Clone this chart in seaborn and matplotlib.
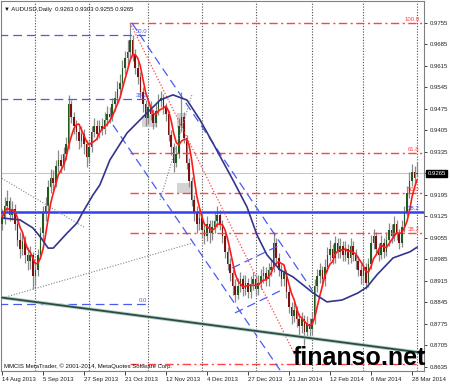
import numpy as np
import pandas as pd
import matplotlib
matplotlib.use("Agg")
import matplotlib.pyplot as plt
import seaborn as sns

# ---------------- data ----------------
date_labels = ["14 Aug 2013", "5 Sep 2013", "27 Sep 2013", "21 Oct 2013", "12 Nov 2013",
               "4 Dec 2013", "27 Dec 2013", "21 Jan 2014", "12 Feb 2014", "6 Mar 2014", "28 Mar 2014"]
label_bars = [0, 16, 32, 48, 64, 80, 96, 112, 128, 144, 160]
month_sep_bars = [13, 34, 57, 78, 99, 121, 141, 162]

price_labels = ["0.9755", "0.9685", "0.9615", "0.9545", "0.9475", "0.9405", "0.9335", "0.9265",
                "0.9195", "0.9125", "0.9055", "0.8985", "0.8915", "0.8845", "0.8775", "0.8705", "0.8635"]

first_open = 0.9100
last_open = 0.9263
closes = [
    0.9120, 0.9160, 0.9175, 0.9130, 0.9150, 0.9100, 0.9050, 0.9020, 0.9045, 0.9000,
    0.8980, 0.9000, 0.8930, 0.8950, 0.9000, 0.9070, 0.9140, 0.9160, 0.9220, 0.9250,
    0.9235, 0.9290, 0.9310, 0.9290, 0.9330, 0.9360, 0.9490, 0.9450, 0.9420, 0.9400,
    0.9370, 0.9395, 0.9360, 0.9320, 0.9350, 0.9400, 0.9420, 0.9395, 0.9420, 0.9410,
    0.9440, 0.9460, 0.9450, 0.9490, 0.9510, 0.9540, 0.9560, 0.9610, 0.9640, 0.9660,
    0.9700, 0.9650, 0.9610, 0.9580, 0.9530, 0.9490, 0.9445, 0.9480, 0.9460, 0.9430,
    0.9470, 0.9500, 0.9510, 0.9480, 0.9460, 0.9390, 0.9350, 0.9300, 0.9330, 0.9420,
    0.9450, 0.9380, 0.9300, 0.9240, 0.9180, 0.9140, 0.9100, 0.9120, 0.9080, 0.9060,
    0.9100, 0.9070, 0.9090, 0.9110, 0.9130, 0.9100, 0.9060, 0.9010, 0.8970, 0.8940,
    0.8900, 0.8870, 0.8900, 0.8920, 0.8890, 0.8910, 0.8880, 0.8905, 0.8920, 0.8890,
    0.8910, 0.8930, 0.8940, 0.8920, 0.8950, 0.8960, 0.9040, 0.8990, 0.8950, 0.8920,
    0.8940, 0.8880, 0.8830, 0.8800, 0.8820, 0.8790, 0.8770, 0.8790, 0.8750, 0.8775,
    0.8760, 0.8790, 0.8900, 0.8930, 0.8950, 0.8920, 0.8960, 0.9000, 0.9020, 0.8990,
    0.9040, 0.9010, 0.9030, 0.9000, 0.9020, 0.8990, 0.9030, 0.9000, 0.8980, 0.8950,
    0.8930, 0.8960, 0.8910, 0.8970, 0.9040, 0.9060, 0.9020, 0.9000, 0.9040, 0.9010,
    0.9050, 0.9080, 0.9060, 0.9100, 0.9070, 0.9040, 0.9090, 0.9140, 0.9200, 0.9240,
    0.9270, 0.9250, 0.9265]
highs = [
    0.9150, 0.9190, 0.9210, 0.9190, 0.9175, 0.9165, 0.9115, 0.9075, 0.9070, 0.9060,
    0.9025, 0.9030, 0.9010, 0.8975, 0.9020, 0.9090, 0.9160, 0.9190, 0.9245, 0.9280,
    0.9275, 0.9310, 0.9340, 0.9330, 0.9350, 0.9385, 0.9520, 0.9505, 0.9465, 0.9440,
    0.9415, 0.9420, 0.9410, 0.9375, 0.9370, 0.9420, 0.9445, 0.9440, 0.9440, 0.9445,
    0.9465, 0.9485, 0.9480, 0.9510, 0.9535, 0.9565, 0.9590, 0.9635, 0.9665, 0.9700,
    0.9755, 0.9715, 0.9670, 0.9630, 0.9595, 0.9545, 0.9505, 0.9500, 0.9500, 0.9475,
    0.9490, 0.9525, 0.9535, 0.9525, 0.9495, 0.9470, 0.9405, 0.9365, 0.9355, 0.9445,
    0.9530, 0.9465, 0.9390, 0.9315, 0.9255, 0.9195, 0.9160, 0.9145, 0.9135, 0.9100,
    0.9125, 0.9115, 0.9115, 0.9135, 0.9160, 0.9145, 0.9115, 0.9075, 0.9025, 0.8990,
    0.8955, 0.8920, 0.8925, 0.8945, 0.8935, 0.8935, 0.8925, 0.8930, 0.8945, 0.8935,
    0.8935, 0.8955, 0.8965, 0.8960, 0.8975, 0.8985, 0.9075, 0.9055, 0.9005, 0.8970,
    0.8965, 0.8950, 0.8895, 0.8845, 0.8845, 0.8835, 0.8810, 0.8815, 0.8805, 0.8800,
    0.8795, 0.8815, 0.8920, 0.8955, 0.8975, 0.8965, 0.8985, 0.9025, 0.9050, 0.9035,
    0.9060, 0.9055, 0.9055, 0.9045, 0.9045, 0.9035, 0.9055, 0.9045, 0.9020, 0.8995,
    0.8970, 0.8985, 0.8975, 0.8990, 0.9065, 0.9085, 0.9075, 0.9040, 0.9065, 0.9055,
    0.9075, 0.9105, 0.9100, 0.9125, 0.9115, 0.9085, 0.9115, 0.9160, 0.9225, 0.9270,
    0.9295, 0.9290, 0.9303]
lows = [
    0.9080, 0.9100, 0.9140, 0.9110, 0.9115, 0.9080, 0.9030, 0.8990, 0.9000, 0.8975,
    0.8950, 0.8955, 0.8890, 0.8900, 0.8930, 0.8985, 0.9050, 0.9110, 0.9140, 0.9200,
    0.9210, 0.9220, 0.9270, 0.9265, 0.9275, 0.9310, 0.9345, 0.9430, 0.9395, 0.9375,
    0.9345, 0.9350, 0.9330, 0.9285, 0.9300, 0.9335, 0.9385, 0.9375, 0.9380, 0.9390,
    0.9395, 0.9420, 0.9430, 0.9435, 0.9470, 0.9495, 0.9520, 0.9545, 0.9590, 0.9615,
    0.9640, 0.9630, 0.9590, 0.9555, 0.9510, 0.9465, 0.9420, 0.9425, 0.9440, 0.9410,
    0.9415, 0.9455, 0.9480, 0.9460, 0.9435, 0.9370, 0.9325, 0.9270, 0.9285, 0.9315,
    0.9400, 0.9365, 0.9280, 0.9220, 0.9160, 0.9110, 0.9070, 0.9080, 0.9055, 0.9035,
    0.9045, 0.9040, 0.9050, 0.9070, 0.9090, 0.9080, 0.9040, 0.8990, 0.8950, 0.8915,
    0.8870, 0.8845, 0.8855, 0.8880, 0.8865, 0.8870, 0.8860, 0.8860, 0.8885, 0.8870,
    0.8870, 0.8890, 0.8910, 0.8900, 0.8900, 0.8930, 0.8945, 0.8970, 0.8930, 0.8900,
    0.8900, 0.8860, 0.8810, 0.8775, 0.8780, 0.8765, 0.8740, 0.8745, 0.8705, 0.8730,
    0.8735, 0.8740, 0.8775, 0.8880, 0.8910, 0.8895, 0.8900, 0.8945, 0.8980, 0.8970,
    0.8975, 0.8990, 0.8990, 0.8980, 0.8980, 0.8970, 0.8975, 0.8980, 0.8955, 0.8930,
    0.8905, 0.8910, 0.8890, 0.8895, 0.8955, 0.9020, 0.9000, 0.8980, 0.8985, 0.8990,
    0.8995, 0.9030, 0.9040, 0.9045, 0.9050, 0.9020, 0.9025, 0.9075, 0.9125, 0.9185,
    0.9225, 0.9230, 0.9255]

# slow moving average (navy)
navy_bars = [0, 7, 12, 15, 18, 20, 25.4, 29.3, 31.6, 35.5, 38.2, 42.1, 48.8, 55, 61.7, 66.7,
             72.2, 77.3, 82.3, 90.1, 95.6, 99.5, 103.4, 108.5, 113.6, 121.4, 126.8, 132.7,
             138.9, 142.4, 146.3, 152.6, 159.2, 162]
navy_vals = [0.9120, 0.9114, 0.9088, 0.9058, 0.9022, 0.9022, 0.9071, 0.9104, 0.9140, 0.9195,
             0.9228, 0.9309, 0.9397, 0.9449, 0.9504, 0.9521, 0.9504, 0.9439, 0.9364, 0.9244,
             0.9156, 0.9065, 0.9000, 0.8951, 0.8928, 0.8876, 0.8847, 0.8853, 0.8876, 0.8895,
             0.8935, 0.8990, 0.9010, 0.9025]

# red Fibonacci (from the 0.9755 top)
red_fib_start_bar = 50
red_fib_levels = ["0.0", "38.2", "50.0", "61.8", "100.0"]
red_fib_prices = [0.8645, 0.9071, 0.9202, 0.9332, 0.9755]
# blue Fibonacci (left part)
blue_fib_end_bar = 57
blue_fib_levels = ["0.0", "38.2", "50.0"]
blue_fib_prices = [0.8840, 0.9508, 0.9716]
blue_solid_price = 0.9140
blue_solid_label = "38.2"
bid_price = 0.9265

# trend lines: (bar0, price0, bar1, price1)
teal_line = (-1.0, 0.8862, 165.0, 0.8680)
blue_dash_lines = [(50.7, 0.9755, 121.0, 0.8886),
                   (43.3, 0.9423, 108.5, 0.8625),
                   (89.8, 0.8957, 108.5, 0.9032),
                   (90.9, 0.8811, 109.3, 0.8886)]
red_dot_lines = [(50.0, 0.9755, 116.3, 0.8641)]
gray_dot_lines = [(-1.0, 0.9254, 32.4, 0.9088),
                  (0.4, 0.8860, 75.0, 0.9040),
                  (61.7, 0.9179, 74.1, 0.9521)]
gray_boxes = [(54.6, 60.5, 0.9417, 0.9456), (68.3, 71.4, 0.9413, 0.9462), (68.3, 74.5, 0.9202, 0.9234)]

# ---------------- figure ----------------
sns.set_style("white")
plt.rcParams['font.family'] = ['Liberation Sans', 'DejaVu Sans']

RED = "#ff4444"
BLUE = "#4a5cf0"

W, H = 450, 385
fig = plt.figure(figsize=(W / 100, H / 100), dpi=100)
ax = fig.add_axes([1 / W, 14 / H, 423 / W, 370 / H])
ax.set_facecolor("white")

n = len(closes)
bars = np.arange(n)
opens = [first_open] + closes[:-1]
opens[-1] = last_open
df = pd.DataFrame({"bar": bars, "open": opens, "high": highs, "low": lows, "close": closes})
df["ma_fast"] = df["close"].rolling(5, min_periods=1).mean()

# month separators
for b in month_sep_bars:
    ax.axvline(b, color="#505050", lw=0.8, ls=(0, (1, 1.5)), zorder=1)

# gray label boxes
for x0, x1, y0, y1 in gray_boxes:
    ax.fill_between([x0, x1], y0, y1, color="#d4d4d4", lw=0, zorder=1.5)

# horizontal levels
ax.axhline(bid_price, color="#c8c8c8", lw=0.8, zorder=1.6)
ax.axhline(blue_solid_price, color="#3340f0", lw=1.8, zorder=4)
ax.text(162.8, blue_solid_price + 0.0003, blue_solid_label, color="#3340f0", fontsize=4.3,
        ha="right", va="bottom", zorder=6)

for lab, p in zip(red_fib_levels, red_fib_prices):
    ax.plot([red_fib_start_bar, 166], [p, p], color=RED, lw=1.0,
            ls=(0, (6, 2.5, 1.5, 2.5)), zorder=4)
    if lab != "0.0":
        ax.text(162.8, p + 0.0003, lab, color=RED, fontsize=4.3, ha="right", va="bottom", zorder=6)

for lab, p in zip(blue_fib_levels, blue_fib_prices):
    ax.plot([-2, blue_fib_end_bar], [p, p], color=BLUE, lw=0.9, ls=(0, (7, 4)), zorder=4)
    ax.text(blue_fib_end_bar - 0.3, p + 0.0003, lab, color=BLUE, fontsize=4.3,
            ha="right", va="bottom", zorder=6)

# candles
up = df["close"] >= df["open"]
body_low = np.minimum(df["open"], df["close"])
body_h = np.maximum(np.abs(df["close"] - df["open"]), 0.0003)
ax.vlines(df["bar"], df["low"], df["high"], color="#8a8a8a", lw=0.9, zorder=3)
ax.bar(df["bar"], body_h, bottom=body_low, width=0.62,
       color=np.where(up, "#1f5a1f", "#7a1212"), lw=0, zorder=3.2)

# moving averages
sns.lineplot(x=df["bar"], y=df["ma_fast"], ax=ax, color="#ff1a1a", lw=1.2, zorder=5, legend=False)
sns.lineplot(x=navy_bars, y=navy_vals, ax=ax, color="#34348c", lw=1.2, zorder=5, legend=False)

# trend lines
x0, y0, x1, y1 = teal_line
ax.plot([x0, x1], [y0, y1], color="#b8d0c8", lw=2.6, zorder=4.5, solid_capstyle="butt")
ax.plot([x0, x1], [y0, y1], color="#2b4b45", lw=1.3, zorder=4.6)
for x0, y0, x1, y1 in blue_dash_lines:
    ax.plot([x0, x1], [y0, y1], color=BLUE, lw=0.9, ls=(0, (7, 4)), zorder=4)
for x0, y0, x1, y1 in red_dot_lines:
    ax.plot([x0, x1], [y0, y1], color=RED, lw=0.9, ls=(0, (1, 1.5)), zorder=4)
for x0, y0, x1, y1 in gray_dot_lines:
    ax.plot([x0, x1], [y0, y1], color="#7a8a88", lw=0.8, ls=(0, (1, 1.5)), zorder=4)

# axes
ax.set_xlim(-0.39, 164.68)
ax.set_ylim(0.86219, 0.98266)
ax.set_xlabel("")
ax.set_ylabel("")
ax.yaxis.tick_right()
ax.set_yticks([float(s) for s in price_labels])
# the current-price box below carries the 0.9265 text
ax.set_yticklabels(["" if s == "0.9265" else s for s in price_labels])
ax.set_xticks(label_bars)
ax.set_xticklabels(date_labels, ha="left")
ax.tick_params(axis="y", which="both", right=True, left=False, length=2, width=0.6, pad=2,
               labelsize=4.3, colors="#222222")
ax.tick_params(axis="x", which="both", bottom=True, length=3, width=0.6, pad=1,
               labelsize=4.3, colors="#222222")
for s in ax.spines.values():
    s.set_color("#808080")
    s.set_linewidth(0.8)

# current price box
ax.text(1.008, bid_price, "0.9265", transform=ax.get_yaxis_transform(), color="white",
        fontsize=4.3, ha="left", va="center", zorder=10, clip_on=False,
        bbox=dict(boxstyle="square,pad=0.15", fc="black", ec="black"))

# header and footer texts
ax.text(0.008, 0.985, "\u25bc AUDUSD,Daily  0.9263 0.9303 0.9255 0.9265", transform=ax.transAxes,
        fontsize=4.3, ha="left", va="top", color="#111111", zorder=10)
ax.text(0.006, 0.006, "MMCIS MetaTrader, \u00a9 2001-2014, MetaQuotes Software Corp.",
        transform=ax.transAxes, fontsize=4.3, ha="left", va="bottom", color="#111111", zorder=10)

# watermark
fig.text(293 / W, 1 - 365 / H, "finanso.net", fontsize=18, fontweight="bold",
         family=["Liberation Sans", "DejaVu Sans"], color="black", ha="left", va="baseline", zorder=20)

fig.savefig("out.png", dpi=100)
